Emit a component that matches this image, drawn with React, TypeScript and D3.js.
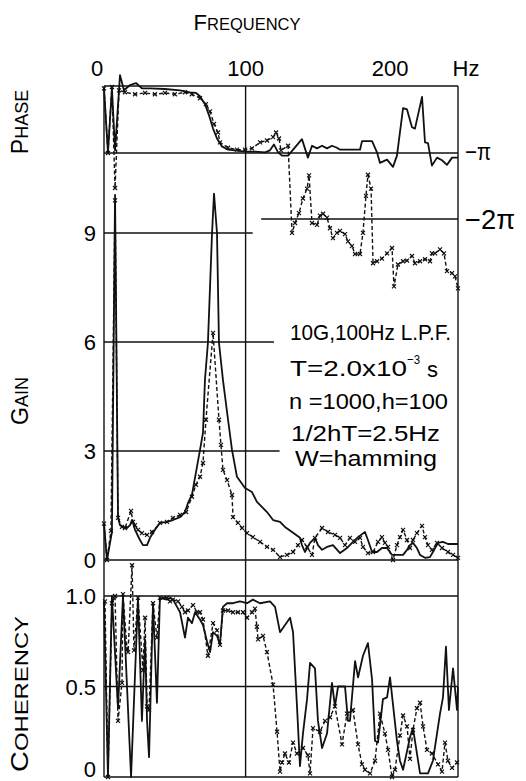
import * as d3 from "d3";

// frequency axis labels
const freqTicks = [0, 100, 200];

// phase (units of pi), solid = measured A, dashed = measured B
const phaseSolidHz = [0, 2.8, 5.6, 7.8, 11.3, 14.1, 18.4, 22.6, 26.8, 32.5, 43, 53.7, 60.7, 65, 67.8, 71.3, 74.2, 77, 79.8, 83.3, 87.6, 92.5, 99.6, 106.6, 113.7, 117.2, 120, 122.9, 125.7, 130, 139.8, 144, 146.9, 150.4, 154, 157.5, 161, 164.5, 166.7, 180.8, 182.2, 189.3, 192.8, 194.9, 199.9, 204.1, 206.9, 211.2, 214, 217.5, 219.6, 224.6, 226.7, 228.8, 231.6, 235.2, 238.7, 242.2, 245.8, 250];
const phaseSolidPi = [-0.02, -0.99, -0.02, -0.96, 0.18, -0.05, 0.03, 0.06, -0.02, -0.02, -0.03, -0.05, -0.08, -0.09, -0.14, -0.26, -0.43, -0.63, -0.78, -0.9, -0.95, -0.96, -0.98, -0.98, -0.99, -0.96, -0.87, -0.99, -1.04, -1.04, -0.79, -1.07, -0.89, -0.93, -0.89, -0.93, -0.89, -0.92, -0.95, -0.95, -0.82, -0.82, -0.99, -1.15, -1.1, -1.21, -1.04, -0.32, -0.34, -0.61, -0.63, -0.15, -0.84, -0.85, -1.19, -1.07, -1.11, -1.18, -1.07, -1.07];

const phaseDashHz = [0, 2.8, 5.6, 7.8, 10.6, 14.8, 21.9, 29, 36, 43, 50, 57.2, 62, 67.8, 72, 74.9, 77.7, 80.5, 81.9, 87.6, 93.9, 99.6, 104.5, 110.2, 115.1, 119.4, 121.5, 123.6, 125, 130, 132.8, 134.9, 137.7, 140.5, 143.4, 144.8, 146.9, 150.4, 152.5, 154.7, 157.5, 159.6, 161.7, 164.5, 166.7, 170.2, 172.3, 175.1, 177.3, 180.8, 182.9, 185, 186.4, 188.6, 190, 192.8, 196.3, 199.9, 203.4, 204.8, 207.6, 211.2, 214, 217.5, 219.6, 223.2, 226.7, 230.2, 231.6, 233.8, 237.3, 240.1, 242.2, 245.8, 247.9, 250];
const phaseDashPi = [-0.02, -1.0, 0, -1.53, -0.05, -0.08, -0.11, -0.09, -0.11, -0.09, -0.11, -0.08, -0.11, -0.17, -0.26, -0.37, -0.56, -0.69, -0.84, -0.92, -0.95, -0.95, -0.93, -0.84, -0.81, -0.76, -0.69, -0.78, -0.96, -0.89, -2.21, -2.06, -1.91, -1.69, -1.54, -1.34, -2.06, -2.09, -1.95, -1.92, -1.98, -2.14, -2.29, -2.21, -2.18, -2.23, -2.34, -2.41, -2.53, -2.53, -2.21, -1.65, -1.33, -1.54, -2.67, -2.64, -2.6, -2.52, -2.44, -3.02, -2.69, -2.64, -2.63, -2.56, -2.67, -2.64, -2.61, -2.64, -2.52, -2.52, -2.46, -2.52, -2.79, -2.82, -2.87, -3.05];

// gain
const gainTicks = [0, 3, 6, 9];
const gainSolidHz = [0, 2.1, 5.6, 7.8, 9.9, 11.3, 13.4, 16.2, 18.4, 19.8, 20.5, 21.9, 25.4, 27.5, 30.4, 32.5, 36, 39.5, 44.5, 48.7, 53.7, 57.2, 59.3, 62.1, 67.8, 69.9, 71.3, 73.4, 76.3, 77.7, 79.8, 81.2, 84, 87.6, 90.4, 93.9, 99.6, 104.5, 108, 115.1, 119.4, 124.3, 127.8, 132.8, 138.4, 139.8, 141.9, 145.5, 149, 151.1, 154, 157.5, 161.7, 166.7, 171.6, 175.8, 179.4, 184.3, 186.4, 189.3, 192.8, 196.3, 199.9, 203.4, 211.2, 214, 216.1, 218.2, 221, 223.2, 226.7, 230.2, 232.3, 235.9, 239.4, 242.9, 250];
const gainSolidVal = [1.0, 0, 0.77, 10.05, 1.16, 0.96, 0.91, 0.88, 0.96, 1.1, 1.02, 0.83, 0.55, 0.41, 0.41, 0.61, 0.83, 1.02, 1.05, 1.1, 1.18, 1.32, 1.57, 1.79, 3.03, 3.5, 4.96, 5.98, 9.0, 10.08, 9.0, 5.98, 4.96, 3.86, 3.03, 2.29, 1.98, 1.87, 1.6, 1.32, 1.1, 1.05, 0.91, 0.77, 0.61, 0.41, 0.22, 0.47, 0.61, 0.41, 0.28, 0.36, 0.41, 0.19, 0.33, 0.5, 0.63, 0.77, 0.55, 0.22, 0.22, 0.33, 0.33, 0.14, 0.14, 0.28, 0.41, 0.47, 0.33, 0.14, 0.06, 0.08, 0.22, 0.47, 0.5, 0.44, 0.44];

const gainDashHz = [0, 2.1, 4.9, 7.8, 9.9, 12.7, 14.8, 19.1, 20.5, 21.9, 24, 26.8, 30.4, 33.9, 39.5, 44.5, 48.7, 53.7, 58, 62.1, 64.9, 67.8, 69.9, 72, 77, 81.2, 82.6, 84, 86.9, 90.4, 91.1, 94.6, 97.5, 101, 105.2, 110.2, 115.1, 119.4, 124.3, 129.2, 133.5, 137, 139.8, 143.4, 146.9, 149, 154, 158.2, 163.1, 166.7, 170.2, 173.7, 177.3, 180.8, 182.9, 186.4, 190, 193.5, 196.3, 198.4, 200.6, 204.1, 206.9, 209, 211.2, 214, 216.1, 218.2, 221, 224.6, 226.7, 228.8, 231.6, 235.2, 238.7, 242.9, 246.5, 250];
const gainDashVal = [1.0, 0, 0.8, 9.9, 1.16, 0.91, 0.88, 1.35, 1.05, 0.96, 0.83, 0.74, 0.69, 0.77, 1.02, 1.05, 1.16, 1.24, 1.32, 1.74, 2.07, 2.29, 2.67, 3.86, 6.25, 3.86, 3.17, 2.48, 2.2, 1.79, 1.18, 1.02, 0.88, 0.74, 0.63, 0.5, 0.36, 0.28, 0.08, 0.14, 0.22, 0.41, 0.55, 0.36, 0.14, 0.61, 0.88, 0.77, 0.69, 0.61, 0.41, 0.61, 0.5, 0.61, 0.36, 0.19, 0.22, 0.5, 0.63, 0.47, 0.36, 0, 0.41, 0.63, 0.83, 0.55, 0.33, 0.55, 0.74, 0.94, 0.63, 0.41, 0.28, 0.47, 0.33, 0.22, 0.14, 0.06];

// coherency
const cohTicks = ["0", "0.5", "1.0"];
const cohSolidHz = [0, 2.8, 5.6, 9.9, 13.4, 19.1, 24, 26.8, 29, 30.4, 31.8, 34.6, 37.4, 39.5, 44.5, 46.6, 48.7, 51.6, 53.7, 57.2, 59.3, 62.1, 64.3, 67.8, 69.9, 72.7, 74.9, 77, 79.8, 81.9, 84, 86.9, 91.1, 96, 101, 105.2, 110.2, 117.2, 120.8, 124.3, 131.4, 133.5, 136.3, 138.4, 140.5, 143.4, 145.5, 149, 151.1, 154, 157.5, 161, 163.1, 165.3, 170.2, 172.3, 173.7, 177.3, 179.4, 182.9, 186.4, 189.3, 191.4, 193.5, 197, 199.9, 202, 206.9, 209, 211.2, 216.1, 218.2, 223.2, 228.8, 232.3, 237.3, 239.4, 241.5, 243.6, 246.5, 249.3, 250];
const cohSolidVal = [0.97, 0, 1.0, 0.38, 1.0, 0, 0.99, 0.31, 0.76, 0.31, 0.11, 0.96, 0.41, 0.99, 0.98, 0.99, 0.98, 0.94, 0.91, 0.77, 0.88, 0.85, 0.91, 0.87, 0.84, 0.75, 0.69, 0.8, 0.78, 0.73, 0.94, 0.96, 0.96, 0.97, 0.96, 0.98, 0.96, 0.97, 0.94, 0.8, 0.88, 0.8, 0.39, 0.06, 0.24, 0.43, 0.63, 0.6, 0.31, 0.16, 0.24, 0.52, 0.39, 0.5, 0.5, 0.31, 0.31, 0.64, 0.55, 0.67, 0.74, 0.54, 0.2, 0.19, 0.43, 0.44, 0.55, 0.2, 0.09, 0.04, 0.22, 0.27, 0.02, 0.02, 0.09, 0.35, 0.44, 0.72, 0.37, 0.6, 0.37, 0.5];

const cohDashHz = [0.7, 2.8, 5.6, 7.8, 9.9, 12.7, 13.4, 16.2, 17, 19.8, 21.2, 24, 27.5, 29, 30.4, 31.8, 34.6, 37.4, 39.5, 44.5, 46.6, 48.7, 52.3, 55.1, 57.2, 59.3, 62.9, 65.7, 67.8, 69.9, 73.4, 77, 79.8, 81.9, 84, 87.6, 91.1, 94.6, 98.2, 101, 104.5, 106.6, 108, 108.8, 112.3, 115.1, 119.4, 122.2, 124.3, 125.7, 127.8, 130.6, 133.5, 136.3, 140.5, 144, 145.5, 147.6, 152.5, 156.1, 159.6, 163.1, 168.1, 171.6, 175.8, 179.4, 182.2, 184.3, 187.9, 191.4, 194.9, 198.4, 200.6, 203.4, 205.5, 209, 211.2, 214, 216.1, 218.2, 221, 223.2, 225.3, 228.1, 231.6, 235.9, 238.7, 240.8, 242.9, 245.8, 249.3];
const cohDashVal = [0.97, 0, 0.96, 1.0, 0.31, 0.52, 1.01, 0.71, 0.69, 1.17, 0.7, 0.99, 0.59, 0.88, 0.39, 0.37, 0.96, 0.77, 0.99, 0.99, 0.97, 0.98, 0.97, 0.94, 0.91, 0.92, 0.95, 0.91, 0.91, 0.87, 0.67, 0.85, 0.81, 0.73, 0.92, 0.92, 0.91, 0.91, 0.91, 0.88, 0.91, 0.93, 0.83, 0.76, 0.78, 0.69, 0.51, 0.25, 0.03, 0.08, 0.13, 0.08, 0.19, 0.13, 0.16, 0.12, 0.02, 0.27, 0.25, 0.31, 0.33, 0.39, 0.18, 0.35, 0.37, 0.18, 0.07, 0.04, 0.02, 0.09, 0.35, 0.24, 0.15, 0, 0.04, 0.23, 0.34, 0.28, 0.1, 0.26, 0.38, 0.41, 0.28, 0.15, 0.13, 0.07, 0.03, 0.19, 0.09, 0.05, 0.08];

const noteLines = ["10G,100Hz L.P.F.", "T=2.0x10", "n =1000,h=100", "1/2hT=2.5Hz", "W=hamming"];

const W = 526;
const H = 781;
const FONT = "'Liberation Sans', Arial, sans-serif";

const x = d3.scaleLinear().domain([0, 250]).range([104, 458]);
const yPhase = d3.scaleLinear().domain([0, -1]).range([87, 153]);
const yGain = d3.scaleLinear().domain([0, 9]).range([560, 233]);
const yCoh = d3.scaleLinear().domain([0, 1]).range([777, 596]);

function zip(hz: number[], v: number[]) {
  return hz.map((f, i) => [f, v[i]] as [number, number]);
}

function Series({ hz, vals, y, dashed }: { hz: number[]; vals: number[]; y: any; dashed?: boolean }) {
  const pts = zip(hz, vals);
  const line = d3
    .line<[number, number]>()
    .x((d) => x(d[0]))
    .y((d) => y(d[1]));
  return (
    <g>
      <path
        d={line(pts) || ""}
        fill="none"
        stroke="#111"
        strokeWidth={dashed ? 1.4 : 1.8}
        strokeDasharray={dashed ? "4,2.5" : undefined}
        strokeLinejoin="round"
      />
      {dashed &&
        pts.map((d, i) => {
          const cx = x(d[0]);
          const cy = y(d[1]);
          const s = 2;
          return (
            <path
              key={i}
              d={`M${cx - s},${cy - s}L${cx + s},${cy + s}M${cx - s},${cy + s}L${cx + s},${cy - s}`}
              stroke="#111"
              strokeWidth={1.2}
            />
          );
        })}
    </g>
  );
}

// caps label: bigger first letter, smaller rest
function CapsLabel({ word, big, small, ...rest }: { word: string; big: number; small: number; [k: string]: any }) {
  return (
    <text {...rest}>
      <tspan fontSize={big}>{word[0]}</tspan>
      <tspan fontSize={small}>{word.slice(1)}</tspan>
    </text>
  );
}

export default function App() {
  const [x0, x1] = x.range();
  const gridStroke = "#111";
  // how far the gain grid lines reach, in Hz
  const gainLineEnd: Record<number, number> = { 3: 124, 6: 120, 9: 105 };

  return (
    <svg
      width={W}
      height={H}
      viewBox={`0 0 ${W} ${H}`}
      style={{ position: "absolute", left: 0, top: 0, background: "#fff" }}
      fontFamily={FONT}
    >
      <rect width={W} height={H} fill="#fff" />

      {/* frame */}
      <g stroke={gridStroke} strokeWidth={1.4} fill="none">
        <line x1={x0} x2={x0} y1={86} y2={yCoh(0)} />
        <line x1={x1} x2={x1} y1={86} y2={yCoh(0)} />
        <line x1={x(100)} x2={x(100)} y1={86} y2={yCoh(0)} />
        <line x1={x0} x2={x1} y1={86} y2={86} />
        <line x1={x0} x2={x1} y1={yPhase(-1)} y2={yPhase(-1)} />
        <line x1={x(111)} x2={x1} y1={yPhase(-2)} y2={yPhase(-2)} />
        {gainTicks.map((t) => (
          <line key={t} x1={x0} x2={t === 0 ? x1 : x(gainLineEnd[t])} y1={yGain(t)} y2={yGain(t)} />
        ))}
        {[0, 0.5, 1].map((t) => (
          <line key={t} x1={x0} x2={x1} y1={yCoh(t)} y2={yCoh(t)} />
        ))}
      </g>

      {/* title and frequency labels */}
      <CapsLabel word="FREQUENCY" big={22} small={16.5} x={247} y={30} textAnchor="middle" />
      {freqTicks.map((t, i) => (
        <text key={t} x={x(t) + (i === 0 ? -7 : i === 2 ? 3 : 0)} y={76} textAnchor="middle" fontSize={22}>
          {t}
        </text>
      ))}
      <text x={466} y={76} textAnchor="middle" fontSize={22}>
        Hz
      </text>

      {/* y axis labels */}
      {gainTicks.map((t) => (
        <text key={t} x={96} y={yGain(t) + 8} textAnchor="end" fontSize={22}>
          {t}
        </text>
      ))}
      {cohTicks.map((t) => (
        <text key={t} x={96} y={t === "0" ? 777 : yCoh(+t) + 8} textAnchor="end" fontSize={22}>
          {t}
        </text>
      ))}
      <text x={465} y={yPhase(-1) + 7} fontSize={24} textLength={26} lengthAdjust="spacingAndGlyphs">
        −π
      </text>
      <text x={465} y={yPhase(-2) + 10} fontSize={27} textLength={50} lengthAdjust="spacingAndGlyphs">
        −2π
      </text>

      <CapsLabel word="PHASE" big={23} small={18} transform="translate(28,122) rotate(-90)" textAnchor="middle" />
      <CapsLabel word="GAIN" big={23} small={18} transform="translate(28,401) rotate(-90)" textAnchor="middle" />
      <CapsLabel word="COHERENCY" big={23} small={19} transform="translate(28,694) rotate(-90)" textAnchor="middle" textLength={156} lengthAdjust="spacingAndGlyphs" />

      {/* notes */}
      <g fontSize={22}>
        <text x={290} y={340} textLength={161} lengthAdjust="spacingAndGlyphs">
          {noteLines[0]}
        </text>
        <text x={290} y={376} textLength={117} lengthAdjust="spacingAndGlyphs">
          {noteLines[1]}
        </text>
        <text x={407} y={364} fontSize={13} textLength={13} lengthAdjust="spacingAndGlyphs">
          −3
        </text>
        <text x={427} y={377}>
          s
        </text>
        <text x={289} y={409} textLength={159} lengthAdjust="spacingAndGlyphs">
          {noteLines[2]}
        </text>
        <text x={291} y={441} textLength={149} lengthAdjust="spacingAndGlyphs">
          {noteLines[3]}
        </text>
        <text x={295} y={466} textLength={142} lengthAdjust="spacingAndGlyphs">
          {noteLines[4]}
        </text>
      </g>

      {/* data */}
      <Series hz={phaseSolidHz} vals={phaseSolidPi} y={yPhase} />
      <Series hz={phaseDashHz} vals={phaseDashPi} y={yPhase} dashed />
      <Series hz={gainSolidHz} vals={gainSolidVal} y={yGain} />
      <Series hz={gainDashHz} vals={gainDashVal} y={yGain} dashed />
      <Series hz={cohSolidHz} vals={cohSolidVal} y={yCoh} />
      <Series hz={cohDashHz} vals={cohDashVal} y={yCoh} dashed />
    </svg>
  );
}
